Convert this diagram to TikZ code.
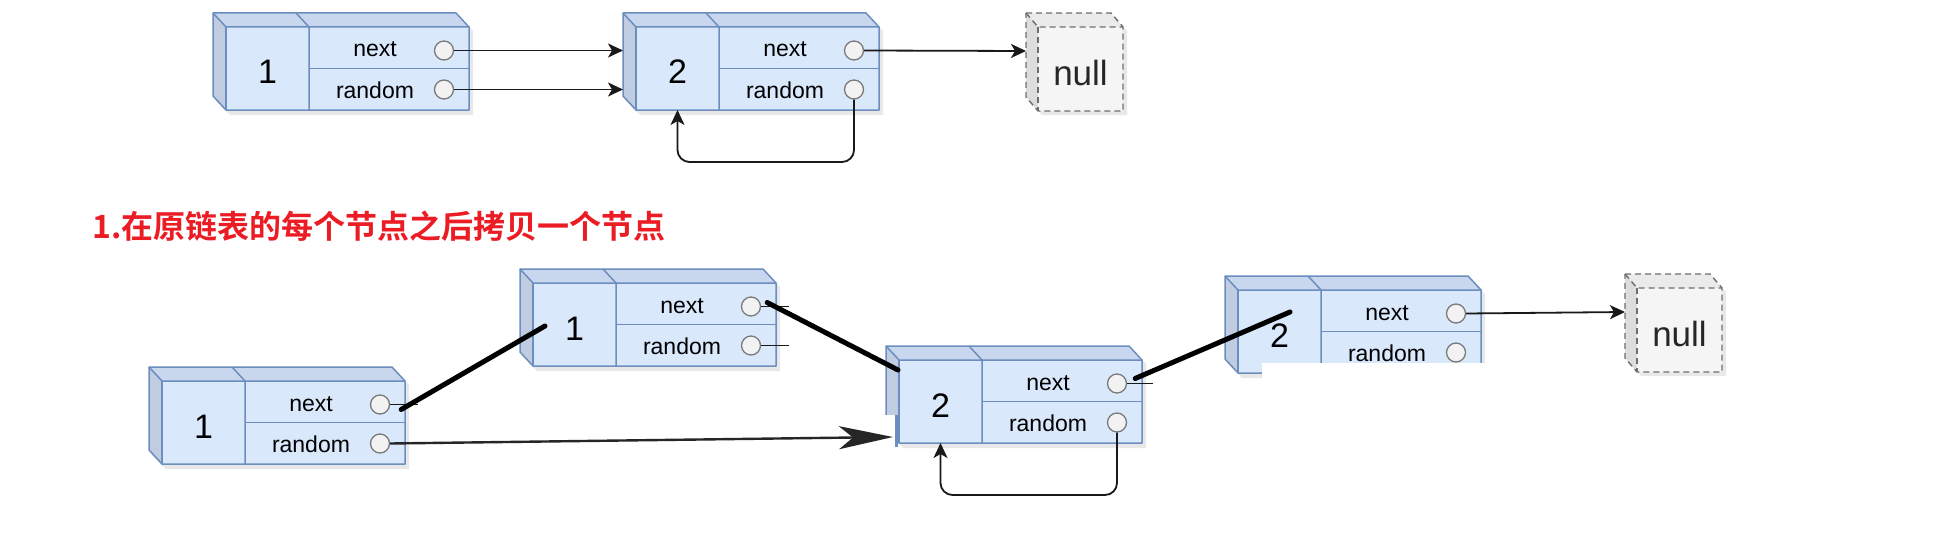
\documentclass[tikz,border=0pt]{standalone}
\usepackage{fontspec}
\setmainfont{Liberation Sans}
\newfontfamily\cjk{Noto Sans CJK SC Bold}
\usetikzlibrary{arrows.meta,calc}
\definecolor{frontc}{HTML}{DAE8FC}
\definecolor{topc}{HTML}{C9D7EE}
\definecolor{leftc}{HTML}{C0CCE0}
\definecolor{edgec}{HTML}{6C8EBF}
\definecolor{circf}{HTML}{F2F2F2}
\definecolor{circd}{HTML}{7A7A7A}
\definecolor{nullf}{HTML}{F5F5F5}
\definecolor{nullt}{HTML}{EBEBEB}
\definecolor{nulll}{HTML}{DDDDDD}
\definecolor{nulld}{HTML}{6E6E6E}
\definecolor{redc}{HTML}{EC1C24}
\tikzset{
  edge/.style={draw=edgec, line width=1.5pt, line join=round},
  circ/.style={circle, draw=circd, fill=circf, line width=1.3pt, minimum size=19pt, inner sep=0pt},
  lbl/.style={anchor=base, inner sep=0pt, font=\fontsize{23}{23}\selectfont},
  numlbl/.style={anchor=base, inner sep=0pt, font=\fontsize{34}{34}\selectfont},
  nulllbl/.style={anchor=base, inner sep=0pt, text=black!85, font=\fontsize{35}{35}\selectfont},
  link/.style={draw=black!90, line width=1.8pt, -{Stealth[length=15pt,width=14pt,inset=4pt]}},
  stub/.style={draw=black!90, line width=1.5pt},
  penline/.style={draw=black, line width=5pt, line cap=round},
  bigarrow/.style={draw=black!85, line width=2.4pt, -{Stealth[length=54pt,width=23pt,inset=14pt]}},
  shade/.style={fill=black, opacity=0.09},
  patch/.style={fill=white},
}
\newcommand\listnode[4]{%
  \begin{scope}[shift={(#2,#3)}]
    \fill[shade] (-10,-10) -- (233,-10) -- (247,4) -- (247,88) -- (4,88) -- (-10,74) -- cycle;
    \fill[topc] (-13,-14) -- (230,-14) -- (243,0) -- (0,0) -- cycle;
    \fill[leftc] (-13,-14) -- (0,0) -- (0,83) -- (-13,69) -- cycle;
    \fill[frontc] (0,0) rectangle (243,83);
    \draw[edge] (-13,-14) -- (230,-14) -- (243,0) -- (243,83) -- (0,83) -- (-13,69) -- cycle;
    \draw[edge] (-13,-14) -- (0,0) -- (243,0);
    \draw[edge] (0,0) -- (0,83);
    \draw[edge] (70,-14) -- (83,0) -- (83,83);
    \draw[edge] (83,41.5) -- (243,41.5);
    \node[numlbl] (#1-v) at (41.5,57) {#4};
    \node[lbl] (#1-tn) at (149,30) {next};
    \node[lbl] (#1-tr) at (149,71) {random};
    \node[circ] (#1-n) at (218,23.5) {};
    \node[circ] (#1-r) at (218,62.5) {};
    \coordinate (#1-c) at (41.5,41.5);
    \coordinate (#1-b) at (41.5,83);
    \coordinate (#1-lp) at (0,135);
    \coordinate (#1-iN) at (-13,23.5);
    \coordinate (#1-iR) at (-13,62.5);
  \end{scope}}
\newcommand\nullnode[3]{%
  \begin{scope}[shift={(#2,#3)}]
    \fill[shade] (-9,-10) -- (76,-10) -- (89,4) -- (89,88) -- (4,88) -- (-9,74) -- cycle;
    \fill[nullt] (-12,-14) -- (73,-14) -- (85,0) -- (0,0) -- cycle;
    \fill[nulll] (-12,-14) -- (0,0) -- (0,84) -- (-12,70) -- cycle;
    \fill[nullf] (0,0) rectangle (85,84);
    \draw[draw=nulld, line width=1.4pt, dash pattern=on 6pt off 4pt] (-12,-14) -- (73,-14) -- (85,0) -- (85,84) -- (0,84) -- (-12,70) -- cycle;
    \draw[draw=nulld, line width=1.4pt, dash pattern=on 6pt off 4pt] (-12,-14) -- (0,0) -- (85,0);
    \draw[draw=nulld, line width=1.4pt, dash pattern=on 6pt off 4pt] (0,0) -- (0,84);
    \node[nulllbl] (#1) at (42.5,58) {null};
    \coordinate (#1-in) at (-12,24);
  \end{scope}}
\begin{document}
\begin{tikzpicture}[x=1pt,y=-1pt]
  \useasboundingbox[fill=white] (0,0) rectangle (1960,551);
  % top row
  \listnode{t1}{226}{27}{1}
  \listnode{t2}{636}{27}{2}
  \nullnode{tn}{1038}{27}
  \draw[link] (t1-n.east) -- (t2-iN);
  \draw[link] (t1-r.east) -- (t2-iR);
  \draw[link] (t2-n.east) -- (tn-in);
  \draw[link, rounded corners=12pt] (t2-r.south) -- (t2-r.south |- t2-lp) -- (t2-b |- t2-lp) -- (t2-b);
  % title
  \node[anchor=west, inner sep=0pt, text=redc, font=\cjk\fontsize{32}{32}\selectfont] (title) at (92,226) {1.在原链表的每个节点之后拷贝一个节点};
  % bottom row
  \listnode{bA}{162}{381}{1}
  \listnode{bB}{533}{283}{1}
  \listnode{bC}{899}{360}{2}
  \listnode{bD}{1238}{290}{2}
  \nullnode{bn}{1637}{288}
  \fill[patch] (1262,363) rectangle (1492,404);
  \fill[patch] (879,415) rectangle (896,456);
  \draw[edgec, line width=3pt] (896.5,415) -- (896.5,447);
  \coordinate (tipC) at (893,437);
  \draw[stub] (bA-n.east) -- ++(28,0);
  \draw[stub] (bB-n.east) -- ++(28,0);
  \draw[stub] (bB-r.east) -- ++(28,0);
  \draw[stub] (bC-n.east) -- ++(26,0);
  \draw[bigarrow] (bA-r.east) -- (tipC);
  \draw[penline] ($(bA-n.east)+(11,5)$) -- ($(bB-c)+(-29.5,1.5)$);
  \draw[penline] ($(bB-n.east)+(6,-4)$) -- ($(bC-c)+(-42.5,-31.5)$);
  \draw[penline] ($(bC-n.east)+(8,-5)$) -- ($(bD-c)+(10.5,-19.5)$);
  \draw[link] (bD-n.east) -- (bn-in);
  \draw[link, rounded corners=12pt] (bC-r.south) -- (bC-r.south |- bC-lp) -- (bC-b |- bC-lp) -- (bC-b);
\end{tikzpicture}
\end{document}
